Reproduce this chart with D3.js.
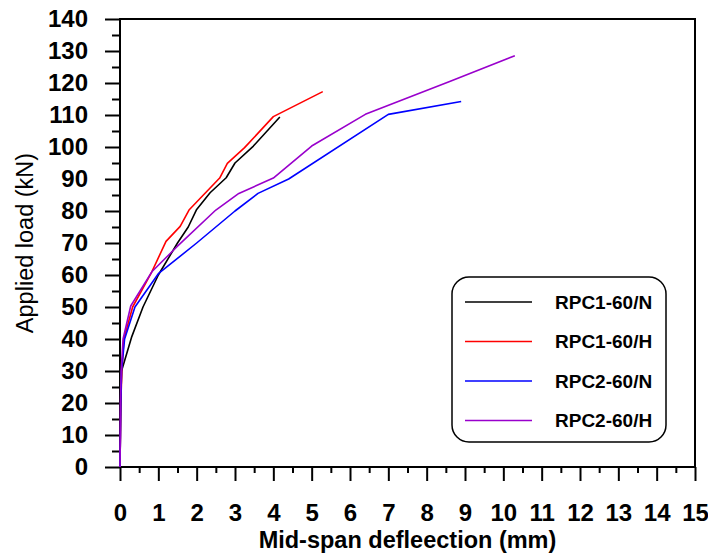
<!DOCTYPE html>
<html>
<head>
<meta charset="utf-8">
<script src="https://cdn.jsdelivr.net/npm/d3@7"></script>
<style>
  body { margin: 0; background: #fff; }
  svg { display: block; font-family: "Liberation Sans", Arial, sans-serif; }
  .axis path { display: none; }
  .axis line { stroke: #000; stroke-width: 2; }
  .axis text { fill: #000; font-weight: bold; }
</style>
</head>
<body>
<div id="chart"></div>
<script>
// Load-deflection data (deflection in mm, load in kN)
const seriesNames = ["RPC1-60/N", "RPC1-60/H", "RPC2-60/N", "RPC2-60/H"];
const seriesColors = ["#000000", "#ff0000", "#0000ff", "#9900cc"];

const rpc1N_x = [0, 0.01, 0.02, 0.04, 0.3, 0.6, 1.0, 1.5, 1.78, 2.0, 2.35, 2.77, 3.0, 3.48, 4.17];
const rpc1N_y = [0, 10, 20, 30, 40.5, 50, 60, 70, 75, 80.5, 85.7, 90.4, 95, 100.3, 109.4];

const rpc1H_x = [0, 0.01, 0.02, 0.05, 0.1, 0.33, 0.83, 1.2, 1.57, 1.8, 2.6, 2.8, 3.25, 4.0, 5.29];
const rpc1H_y = [0, 10, 20, 30, 40, 50, 61, 70.5, 75.2, 80.3, 90.3, 94.9, 99.8, 109.5, 117.3];

const rpc2N_x = [0, 0.01, 0.02, 0.04, 0.12, 0.39, 1.0, 2.0, 3.0, 3.6, 4.4, 7.0, 8.9];
const rpc2N_y = [0, 10, 20, 30, 40, 50, 60.4, 70, 80, 85.5, 90, 110.2, 114.2];

const rpc2H_x = [0, 0.01, 0.01, 0.03, 0.08, 0.28, 0.83, 1.5, 2.5, 3.1, 4.0, 5.0, 6.4, 8.6, 10.3];
const rpc2H_y = [0, 10, 20, 30, 40, 50.3, 61, 69, 80.3, 85.5, 90.3, 100.3, 110.2, 120.5, 128.5];

const xTicks = d3.range(0, 16, 1);
const yTicks = d3.range(0, 141, 10);

function drawChart() {
    const W = 708, H = 554;
    const margin = {top: 19, right: 13, bottom: 87, left: 120};
    const width = W - margin.left - margin.right;
    const height = H - margin.top - margin.bottom;

    const svg = d3.select("#chart").append("svg")
        .attr("width", W)
        .attr("height", H);

    const g = svg.append("g")
        .attr("transform", `translate(${margin.left},${margin.top})`);

    const x = d3.scaleLinear().domain([0, 15]).range([0, width]);
    const y = d3.scaleLinear().domain([0, 140]).range([height, 0]);

    // minor ticks
    g.append("g")
        .attr("class", "axis")
        .attr("transform", `translate(0,${height})`)
        .call(d3.axisBottom(x).tickValues(d3.range(0.5, 15, 1)).tickSize(6).tickFormat(""));
    g.append("g")
        .attr("class", "axis")
        .call(d3.axisLeft(y).tickValues(d3.range(5, 140, 10)).tickSize(8).tickFormat(""));

    // major ticks
    g.append("g")
        .attr("class", "axis")
        .attr("transform", `translate(0,${height})`)
        .call(d3.axisBottom(x).tickValues(xTicks).tickSize(14).tickPadding(23))
        .selectAll("text")
        .style("font-size", "24px");
    g.append("g")
        .attr("class", "axis")
        .call(d3.axisLeft(y).tickValues(yTicks).tickSize(15).tickPadding(17))
        .selectAll("text")
        .style("font-size", "24px");

    // frame
    g.append("rect")
        .attr("width", width)
        .attr("height", height)
        .attr("fill", "none")
        .attr("stroke", "#000")
        .attr("stroke-width", 2);

    // axis labels
    g.append("text")
        .attr("x", width / 2)
        .attr("y", height + 81)
        .attr("text-anchor", "middle")
        .style("font-size", "23.5px")
        .style("font-weight", "bold")
        .text("Mid-span defleection (mm)");

    g.append("text")
        .attr("transform", "rotate(-90)")
        .attr("x", -height / 2)
        .attr("y", -87)
        .attr("text-anchor", "middle")
        .style("font-size", "23.5px")
        .text("Applied load (kN)");

    // curves
    const series = [
        d3.zip(rpc1N_x, rpc1N_y),
        d3.zip(rpc1H_x, rpc1H_y),
        d3.zip(rpc2N_x, rpc2N_y),
        d3.zip(rpc2H_x, rpc2H_y)
    ];
    const line = d3.line().x(d => x(d[0])).y(d => y(d[1]));

    g.selectAll(".curve")
        .data(series)
        .enter()
        .append("path")
        .attr("class", "curve")
        .attr("d", line)
        .attr("fill", "none")
        .attr("stroke", (d, i) => seriesColors[i])
        .attr("stroke-width", 1.6)
        .attr("stroke-linejoin", "round");

    // legend
    const legend = svg.append("g").attr("transform", "translate(452,277)");
    legend.append("rect")
        .attr("width", 214)
        .attr("height", 165)
        .attr("rx", 17)
        .attr("fill", "#fff")
        .attr("stroke", "#000")
        .attr("stroke-width", 1.5);

    seriesNames.forEach((name, i) => {
        const ly = 25 + i * 39.5;
        legend.append("line")
            .attr("x1", 13).attr("x2", 80)
            .attr("y1", ly).attr("y2", ly)
            .attr("stroke", seriesColors[i])
            .attr("stroke-width", 1.6);
        legend.append("text")
            .attr("x", 103)
            .attr("y", ly)
            .attr("dy", "0.35em")
            .style("font-size", "19px")
            .style("font-weight", "bold")
            .text(name);
    });
}

window.addEventListener('DOMContentLoaded', drawChart);
</script>
</body>
</html>
